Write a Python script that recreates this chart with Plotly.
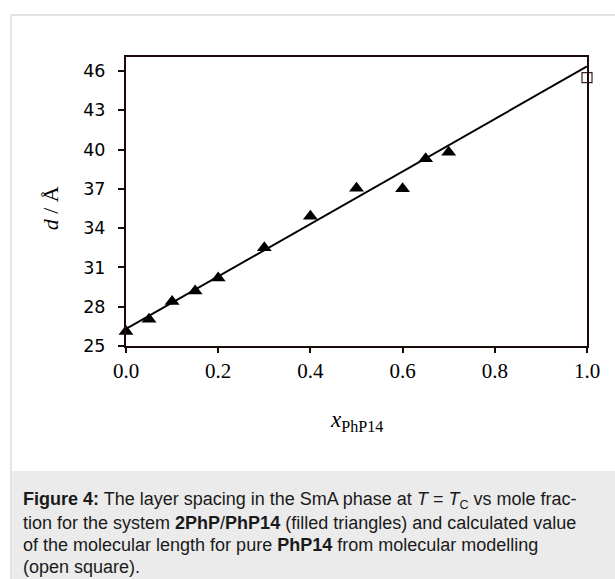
import plotly.graph_objects as go

# Data
x_tri = [0.0, 0.05, 0.10, 0.15, 0.20, 0.30, 0.40, 0.50, 0.60, 0.65, 0.70]
d_tri = [26.1, 27.05, 28.4, 29.2, 30.2, 32.5, 34.9, 37.05, 37.0, 39.3, 39.8]
x_sq = [1.0]
d_sq = [45.5]
fit_x = [0.0, 1.0]
fit_y = [26.3, 46.35]
x_ticks = [0.0, 0.2, 0.4, 0.6, 0.8, 1.0]
x_ticklabels = ["0.0", "0.2", "0.4", "0.6", "0.8", "1.0"]
y_ticks = [25, 28, 31, 34, 37, 40, 43, 46]

W, H = 615, 579
L, R, T, B = 125.7, 28, 57, 233
PW = W - L - R
PH = H - T - B


def px(x):
    return (x - L) / PW


def py(y):
    return (H - B - y) / PH


fig = go.Figure()
fig.add_trace(go.Scatter(x=fit_x, y=fit_y, mode="lines",
                         line=dict(color="black", width=2), showlegend=False,
                         cliponaxis=False))
fig.add_trace(go.Scatter(x=x_tri, y=d_tri, mode="markers",
                         marker=dict(symbol="triangle-up", size=13, color="black"),
                         showlegend=False, cliponaxis=False))
fig.add_trace(go.Scatter(x=x_sq, y=d_sq, mode="markers",
                         marker=dict(symbol="square", size=10, color="white",
                                     line=dict(color="#3a2020", width=1.2)),
                         showlegend=False, cliponaxis=False))

shapes = [
    # card caption background
    dict(type="rect", xref="paper", yref="paper", x0=px(11), x1=px(615), y0=py(579), y1=py(471),
         fillcolor="#ebebeb", line=dict(width=0), layer="below"),
    # card border left and top
    dict(type="line", xref="paper", yref="paper", x0=px(10.5), x1=px(10.5), y0=py(15), y1=py(579),
         line=dict(color="#e2e2e2", width=2)),
    dict(type="line", xref="paper", yref="paper", x0=px(10), x1=px(615), y0=py(15), y1=py(15),
         line=dict(color="#e2e2e2", width=2)),
]

cap_font = dict(family="Liberation Sans, Arial", size=18, color="#1a1a1a")
cap_lines = [
    "<b>Figure 4:</b> The layer spacing in the SmA phase at <i>T</i> = <i>T</i><sub>C</sub> vs mole frac-",
    "tion for the system <b>2PhP</b>/<b>PhP14</b> (filled triangles) and calculated value",
    "of the molecular length for pure <b>PhP14</b> from molecular modelling",
    "(open square).",
]
cap_y = [500, 523, 545, 567]
annotations = []
for t, yy in zip(cap_lines, cap_y):
    annotations.append(dict(text=t, xref="paper", yref="paper", x=px(21), y=py(yy),
                            xanchor="left", yanchor="middle", showarrow=False,
                            font=cap_font, align="left"))

annotations.append(dict(text="<i>d</i> / Å", xref="paper", yref="paper", x=px(50), y=py(208),
                        textangle=-90, showarrow=False, xanchor="center", yanchor="middle",
                        font=dict(family="Liberation Serif, Times New Roman", size=22, color="black")))
annotations.append(dict(text="<i>x</i><sub>PhP14</sub>", xref="paper", yref="paper", x=px(356), y=py(421),
                        showarrow=False, xanchor="center", yanchor="middle",
                        font=dict(family="Liberation Serif, Times New Roman", size=23, color="black")))

fig.update_layout(
    width=W, height=H,
    margin=dict(l=L, r=R, t=T, b=B, pad=0),
    paper_bgcolor="white", plot_bgcolor="white",
    shapes=shapes, annotations=annotations,
    xaxis=dict(range=[0, 1], tickvals=x_ticks, ticktext=x_ticklabels,
               showgrid=False, zeroline=False, showline=True, mirror=True,
               linecolor="#1a0a0a", linewidth=2, ticks="outside", ticklen=5,
               tickwidth=1.5, tickcolor="#1a0a0a", ticklabelstandoff=0,
               tickfont=dict(family="Liberation Serif, Times New Roman", size=21, color="black")),
    yaxis=dict(range=[25, 47.07], tickvals=y_ticks,
               showgrid=False, zeroline=False, showline=True, mirror=True,
               linecolor="#1a0a0a", linewidth=2, ticks="outside", ticklen=6,
               tickwidth=1.5, tickcolor="#1a0a0a", ticklabelstandoff=9,
               tickfont=dict(family="DejaVu Sans", size=17.5, color="black")),
)

fig.write_html("out.html")
